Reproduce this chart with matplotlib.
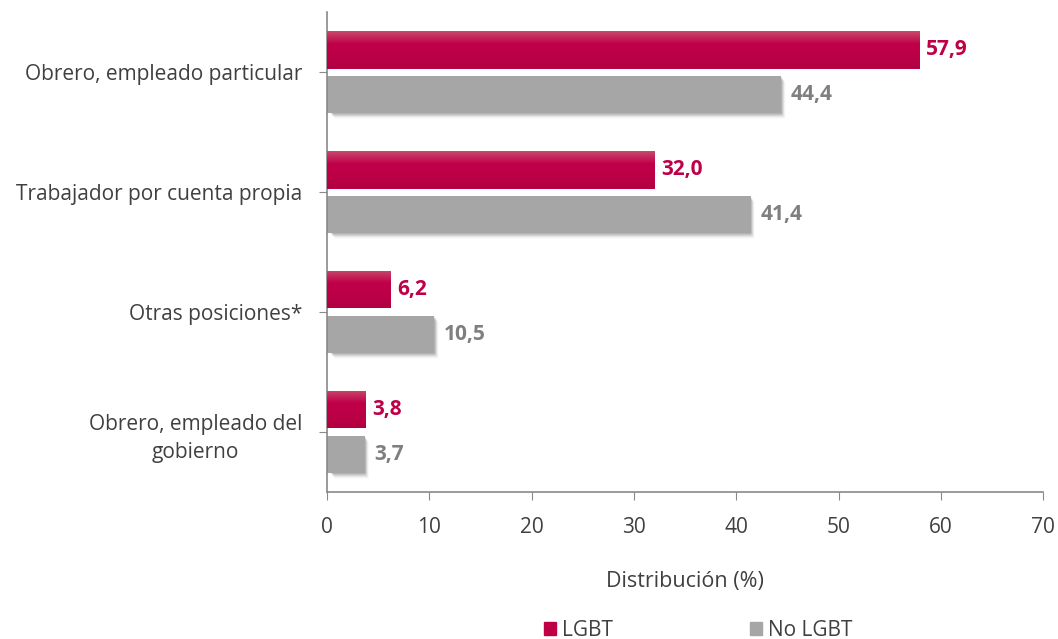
import matplotlib.pyplot as plt
import matplotlib.patches as patches
from matplotlib.colors import LinearSegmentedColormap
import numpy as np

categories = ["Obrero, empleado particular", "Trabajador por cuenta propia",
              "Otras posiciones*", "Obrero, empleado del\ngobierno"]
lgbt = [57.9, 32.0, 6.2, 3.8]
no_lgbt = [44.4, 41.4, 10.5, 3.7]
series_names = ["LGBT", "No LGBT"]

red = "#BE0047"
grey = "#A6A6A6"
red_text = "#BE0047"
grey_text = "#7F7F7F"
text_col = "#404040"

plt.rcParams['font.family'] = ['Open Sans', 'DejaVu Sans']

fig = plt.figure(figsize = (10.58, 6.39), dpi = 100)
ax = fig.add_axes([0.309, 0.230, 0.677, 0.751])

y = np.arange(len(categories))
h = 0.31
off = 0.185

# red bars with a vertical gradient (lighter at the top)
grad = np.linspace(0, 1, 64).reshape(-1, 1)
red_cmap = LinearSegmentedColormap.from_list("r", ["#C8486A", "#C00049", "#BC0046", "#B20042"])
for yi, v in zip(y, lgbt):
    top = yi - off - h / 2
    bot = yi - off + h / 2
    bar = ax.barh(yi - off, v, height = h, color = red, zorder = 2)
    im = ax.imshow(grad, cmap = red_cmap, aspect = 'auto', extent = (0, v, bot, top),
                   zorder = 3, origin = 'upper')
    im.set_clip_path(bar.patches[0])

# grey bars with soft shadow
for yi, v in zip(y, no_lgbt):
    for k, a in zip(range(1, 5), [0.25, 0.18, 0.1, 0.05]):
        dx = 0.1 * k
        dy = 0.012 * k
        ax.add_patch(patches.FancyBboxPatch((0.3 + dx, yi + off - h / 2 + dy), v - 0.3, h,
                                            boxstyle = "round,pad=0,rounding_size=0.3",
                                            mutation_aspect = 0.03,
                                            facecolor = "#606060", edgecolor = 'none', alpha = a, zorder = 1))
    ax.barh(yi + off, v, height = h, color = grey, zorder = 2)

for yi, v in zip(y, lgbt):
    ax.annotate(f"{v:.1f}".replace(".", ","), (v, yi - off), xytext = (5, 0), textcoords = 'offset points',
                ha = 'left', va = 'center', fontsize = 15, fontweight = 'bold', color = red_text)
for yi, v in zip(y, no_lgbt):
    ax.annotate(f"{v:.1f}".replace(".", ","), (v, yi + off), xytext = (7, 0), textcoords = 'offset points',
                ha = 'left', va = 'center', fontsize = 15, fontweight = 'bold', color = grey_text)

ax.set_xlim(0, 70)
ax.set_ylim(len(categories) - 0.5, -0.5)
ax.set_xticks(np.arange(0, 71, 10))
ax.set_yticks(y)
ax.set_yticklabels(categories, fontsize = 15, color = text_col, ha = 'right', multialignment = 'center',
                   linespacing = 1.45)
ax.tick_params(axis = 'x', labelsize = 15, colors = text_col, length = 6, color = "#898989", pad = 12)
ax.tick_params(axis = 'y', length = 6, color = "#898989", pad = 12)
for s in ['top', 'right']:
    ax.spines[s].set_visible(False)
for s in ['left', 'bottom']:
    ax.spines[s].set_color("#898989")
    ax.spines[s].set_linewidth(1.2)
ax.set_xlabel("Distribución (%)", fontsize = 15.5, color = text_col, labelpad = 24)

handles = [patches.Patch(color = red), patches.Patch(color = grey)]
fig.legend(handles, series_names, loc = 'lower center', bbox_to_anchor = (0.66, -0.032), ncol = 2,
           frameon = False, fontsize = 15, handlelength = 0.55, handleheight = 0.55, handletextpad = 0.3,
           columnspacing = 6.6, labelcolor = text_col)

fig.savefig("out.png", dpi = 100)
